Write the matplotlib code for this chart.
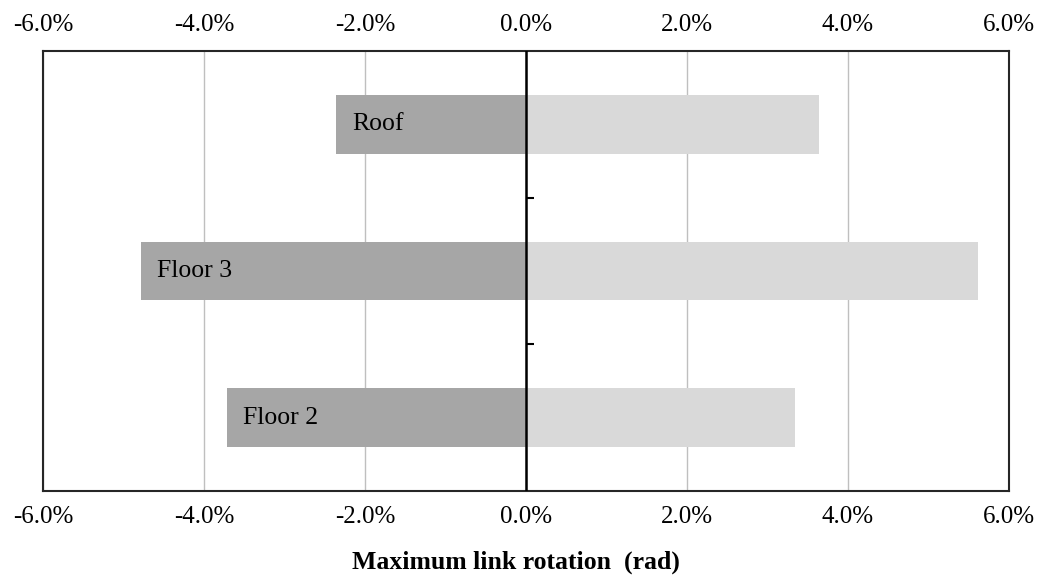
import matplotlib
matplotlib.use("Agg")
import matplotlib.pyplot as plt
import numpy as np

# Link rotation demand per level (percent)
levels = ["Floor 2", "Floor 3", "Roof"]
rot_negative = [-3.72, -4.78, -2.36]
rot_positive = [3.34, 5.61, 3.64]
tick_values = [-6, -4, -2, 0, 2, 4, 6]

plt.rcParams["font.family"] = ["Liberation Serif", "DejaVu Serif"]

fig = plt.figure(figsize=(10.46, 5.81), dpi=100)
ax = fig.add_axes([43 / 1046, 1 - 491 / 581, (1009 - 43) / 1046, (491 - 51) / 581])

y = np.arange(len(levels))
bar_h = 0.4
ax.barh(y, rot_negative, height=bar_h, color="#A6A6A6", zorder=2)
ax.barh(y, rot_positive, height=bar_h, color="#D9D9D9", zorder=2)

# Level names inside the negative bars, near their base
for yi, name, v in zip(y, levels, rot_negative):
    ax.annotate(name, xy=(v, yi), xytext=(11.5, 0), textcoords="offset points",
                ha="left", va="center", fontsize=18.5, color="#000000", zorder=4)

ax.set_xlim(tick_values[0], tick_values[-1])
ax.set_ylim(-0.5, len(levels) - 0.5)

ax.set_xticks(tick_values)
ax.set_xticklabels([f"{t:.1f}%" for t in tick_values])
ax.set_yticks([])
ax.tick_params(axis="x", length=0, labelsize=18, pad=11,
               top=False, labeltop=True, bottom=False, labelbottom=True)

ax.grid(axis="x", color="#BFBFBF", linewidth=1.0, zorder=1)
ax.set_axisbelow(True)

for s in ax.spines.values():
    s.set_linewidth(1.5)
    s.set_color("#262626")

# Vertical category axis crossing at zero
ax.axvline(0, color="black", linewidth=1.8, zorder=3)
bounds = np.arange(len(levels) - 1) + 0.5
ax.plot(np.zeros_like(bounds), bounds, ls="none", marker=1, ms=6, mew=1.5,
        color="black", zorder=3)

ax.set_xlabel("Maximum link rotation  (rad)", fontsize=18.5, fontweight="bold")
ax.xaxis.set_label_coords(0.49, -0.136)

fig.savefig("out.png", dpi=100)
